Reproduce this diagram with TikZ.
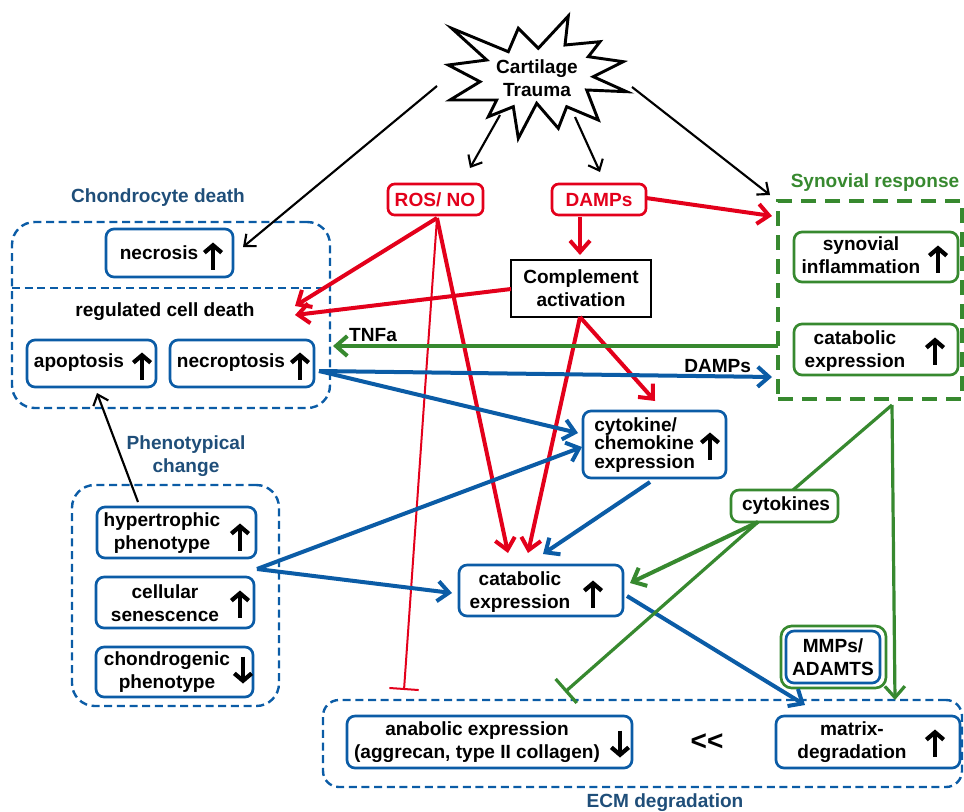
\documentclass[tikz,border=0pt]{standalone}
\usepackage{fontspec}
\setmainfont{Liberation Sans}
\usetikzlibrary{arrows.meta,fit,calc}
\definecolor{cblue}{HTML}{0B5CA6}
\definecolor{ctitle}{HTML}{1F4E79}
\definecolor{cred}{HTML}{E3001B}
\definecolor{cgreen}{HTML}{37892F}
\tikzset{
  txt/.style={font=\bfseries\fontsize{14.3}{17}\selectfont, align=center, inner sep=0pt},
  bbox/.style={draw=cblue, line width=2pt, rounded corners=6pt, inner sep=0pt},
  gbox/.style={draw=cgreen, line width=2pt, rounded corners=6pt, inner sep=0pt},
  rbox/.style={draw=cred, line width=2pt, rounded corners=5pt, inner sep=0pt},
  kbox/.style={draw=black, line width=1.1pt, inner sep=0pt},
  region/.style={draw=cblue, line width=1.8pt, dash pattern=on 6pt off 3.5pt, rounded corners=17pt, inner sep=0pt},
  gregion/.style={draw=cgreen, line width=3pt, dash pattern=on 11pt off 7pt, inner sep=0pt},
  bigtip/.style={-{Straight Barb[length=8.5pt,width=15pt]}},
  smalltip/.style={-{Straight Barb[length=7pt,width=12pt]}},
  kconn/.style={draw=black, line width=1.6pt, smalltip},
  rconn/.style={draw=cred, line width=3pt, bigtip},
  bconn/.style={draw=cblue, line width=3pt, bigtip},
  gconn/.style={draw=cgreen, line width=3pt, bigtip},
  uparr/.pic={\draw[line width=3.2pt,-{Straight Barb[length=5.5pt,width=13pt]}] (0,13.5) -- (0,-13.5);},
  dnarr/.pic={\draw[line width=3.2pt,-{Straight Barb[length=5.5pt,width=13pt]}] (0,-13.5) -- (0,13.5);}
}
\begin{document}
\begin{tikzpicture}[x=0.75pt,y=-0.75pt]
\useasboundingbox (0,0) rectangle (964,811);

% ---------- star ----------
\draw[line width=2.2pt, line join=miter, fill=white]
 (568.3,16) -- (565,45) -- (600,41.7) -- (588.3,56.7) -- (623.3,61.7) -- (593.3,76.7)
 -- (626.7,91.7) -- (586.7,90) -- (598.3,120) -- (566.7,106.7) -- (558.3,128.3)
 -- (536.7,103.3) -- (518.3,138.3) -- (513.3,106.7) -- (488.3,116.7) -- (496.7,100)
 -- (450,100) -- (480,81.7) -- (448.3,65) -- (486.7,60) -- (451.7,28.3)
 -- (508.3,51.7) -- (518.3,28.3) -- (538.3,48.3) -- cycle;
\node[txt] (trauma) at (537,78) {Cartilage\\Trauma};

% ---------- regions ----------
\node[region, fit={(12,222)(330,408)}] (chondro) {};
\draw[cblue, line width=1.8pt, dash pattern=on 6pt off 3.5pt] (12,288) coordinate (dl) -- (330,288) coordinate (dr);
\node[region, fit={(72,485)(279,706)}] (pheno) {};
\node[gregion, fit={(778,201)(962,399)}] (syn) {};
\node[region, rounded corners=12pt, fit={(323,700)(962,787)}] (ecm) {};

\node[txt, text=ctitle] (t1) at (158,198) {Chondrocyte death};
\node[txt, text=ctitle] (t2) at (186,456) {Phenotypical\\change};
\node[txt, text=cgreen] (t3) at (875,183) {Synovial response};
\node[txt, text=ctitle] (t4) at (665,803) {ECM degradation};
\node[txt] (t5) at (165,312) {regulated cell death};

% ---------- boxes ----------
\node[rbox, fit={(388,184)(483,215)}] (ros) {};
\node[txt, text=cred] (rost) at (435,200) {ROS/ NO};
\node[rbox, fit={(552,184)(646,215)}] (damps) {};
\node[txt, text=cred] (dampst) at (599,200) {DAMPs};
\node[kbox, fit={(511,260)(651,317)}] (compl) {};
\node[txt] (complt) at (581,288) {Complement\\activation};

\node[bbox, fit={(106,229)(233,277)}] (necro) {};
\node[txt] (necrot) at (159,253) {necrosis};
\pic at (213,256) {uparr};
\node[bbox, fit={(27,340)(156,387)}] (apo) {};
\node[txt] (apot) at (79,363) {apoptosis};
\pic at (142,366) {uparr};
\node[bbox, fit={(170,340)(314,387)}] (necrop) {};
\node[txt] (necropt) at (231,363) {necroptosis};
\pic at (300,366) {uparr};

\node[bbox, fit={(97,507)(256,558)}] (hyper) {};
\node[txt] (hypert) at (162,533) {hypertrophic\\phenotype};
\pic at (240,537) {uparr};
\node[bbox, fit={(96,577)(254,628)}] (senes) {};
\node[txt] (senest) at (165,603) {cellular\\senescence};
\pic at (240,604) {uparr};
\node[bbox, fit={(96,647)(253,697)}] (chondrog) {};
\node[txt] (chondrogt) at (167,672) {chondrogenic\\phenotype};
\pic at (243,670) {dnarr};

\node[bbox, fit={(583,411)(726,478)}] (cyto) {};
\node[txt, align=left, anchor=west, font=\bfseries\fontsize{14.3}{13.8}\selectfont] (cytot) at (594,445) {cytokine/\\chemokine\\expression};
\pic at (710,446) {uparr};

\node[bbox, fit={(459,565)(623,616)}] (catab) {};
\node[txt] (catabt) at (520,592) {catabolic\\expression};
\pic at (593,594) {uparr};

\node[gbox, fit={(794,232)(958,282)}] (synin) {};
\node[txt] (synint) at (861,255) {synovial\\inflammation};
\pic at (938,259) {uparr};
\node[gbox, fit={(794,324)(958,375)}] (syncat) {};
\node[txt] (syncatt) at (855,351) {catabolic\\expression};
\pic at (935,351) {uparr};

\node[gbox, fit={(731,490)(838,522)}] (cytok) {};
\node[txt] (cytokt) at (786,506) {cytokines};

\node[gbox, rounded corners=8pt, fit={(781,626)(886,688)}] (mmpo) {};
\node[bbox, fit={(786,631)(880,683)}] (mmp) {};
\node[txt] (mmpt) at (833,657) {MMPs/\\ADAMTS};

\node[bbox, fit={(347,716)(632,768)}] (anab) {};
\node[txt] (anabt) at (477,742) {anabolic expression\\(aggrecan, type II collagen)};
\pic at (620,744) {dnarr};
\node[txt, font=\bfseries\fontsize{21}{21}\selectfont] (ll) at (707,742) {{<}{<}};
\node[bbox, fit={(776,716)(960,768)}] (matrix) {};
\node[txt] (matrixt) at (852,742) {matrix-\\degradation};
\pic at (935,743) {uparr};

% ---------- connector end points ----------
\coordinate (s1) at (437,86);   \coordinate (e1) at (243,247);
\coordinate (s2) at (500,115);  \coordinate (e2) at (470,168);
\coordinate (s3) at (575,117);  \coordinate (e3) at (600,172);
\coordinate (s4) at (632,87);   \coordinate (e4) at (770,195);
\coordinate (h1) at (138,502);  \coordinate (h2) at (97,393);

\coordinate (rosb) at (437,218);
\coordinate (dampr) at (646,198); \coordinate (synl) at (772,216);
\coordinate (dampb) at (580,217); \coordinate (complt2) at (580,255);
\coordinate (rcd1) at (295,306);  \coordinate (rcd2) at (295,315);
\coordinate (compll) at (511,289); \coordinate (complb) at (580,317);
\coordinate (cat1) at (508,553);  \coordinate (cat2) at (528,553);
\coordinate (cytotop) at (655,401);
\coordinate (tbar1) at (404,690);

\coordinate (necr) at (319,371);  \coordinate (synd) at (772,377);
\coordinate (cyin1) at (578,433); \coordinate (cyin2) at (582,447);
\coordinate (phr) at (257,569);   \coordinate (catl) at (452,593);
\coordinate (cyb) at (650,482);   \coordinate (catt) at (543,554);
\coordinate (catr) at (627,596);  \coordinate (matt) at (805,705);

\coordinate (synw) at (778,346);  \coordinate (tnf) at (333,346);
\coordinate (synb) at (892,405);  \coordinate (cytoktop) at (793,490);
\coordinate (matt2) at (895,700);
\coordinate (cytokb) at (758,522); \coordinate (catr2) at (630,583);
\coordinate (tbar2) at (565,692);

% ---------- connectors ----------
\draw[kconn] (s1) -- (e1);
\draw[kconn] (s2) -- (e2);
\draw[kconn] (s3) -- (e3);
\draw[kconn] (s4) -- (e4);
\draw[kconn] (h1) -- (h2);

\draw[draw=cred, line width=1.5pt, -{Bar[width=22pt]}] (rosb) -- (tbar1);
\draw[rconn] (dampr) -- (synl);
\draw[rconn] (dampb) -- (complt2);
\draw[rconn] (rosb) -- (rcd1);
\draw[rconn] (compll) -- (rcd2);
\draw[rconn] (rosb) -- (cat1);
\draw[rconn] (complb) -- (cat2);
\draw[rconn] (complb) -- (cytotop);

\draw[bconn] (necr) -- node[pos=0.88, above=1pt, txt, text=black] (dl2) {DAMPs} (synd);
\draw[bconn] (necr) -- (cyin1);
\draw[bconn] (phr) -- (cyin2);
\draw[bconn] (phr) -- (catl);
\draw[bconn] (cyb) -- (catt);
\draw[bconn] (catr) -- (matt);

\draw[gconn] (synw) -- node[pos=0.91, above=2pt, txt, text=black] (tnfl) {TNFa} (tnf);
\draw[draw=cgreen, line width=2.4pt] (synb) -- (cytoktop);
\draw[draw=cgreen, line width=2.4pt, bigtip] (synb) -- (matt2);
\draw[gconn] (cytokb) -- (catr2);
\draw[draw=cgreen, line width=2.4pt, -{Bar[width=24pt]}] (cytokb) -- (tbar2);
\end{tikzpicture}
\end{document}
